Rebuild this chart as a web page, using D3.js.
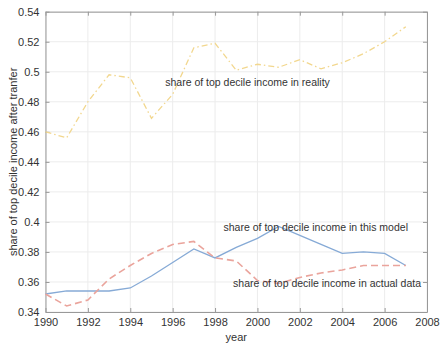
<!DOCTYPE html>
<html><head><meta charset="utf-8">
<script src="https://cdn.jsdelivr.net/npm/d3@7"></script>
<style>body{margin:0;background:#fff}svg{display:block}text{font-family:"Liberation Sans",Arial,sans-serif}</style>
</head><body><div id="c"></div>
<script>
const years = [1990,1991,1992,1993,1994,1995,1996,1997,1998,1999,2000,2001,2002,2003,2004,2005,2006,2007];
const reality = [0.460,0.456,0.480,0.498,0.496,0.469,0.485,0.516,0.519,0.501,0.505,0.503,0.508,0.502,0.506,0.512,0.520,0.530];
const model = [0.352,0.354,0.354,0.354,0.356,0.364,0.373,0.382,0.376,0.383,0.389,0.397,0.391,0.385,0.379,0.380,0.379,0.371];
const actual = [0.352,0.344,0.348,0.362,0.371,0.379,0.385,0.387,0.376,0.374,0.361,0.359,0.363,0.366,0.368,0.371,0.371,0.371];
const xTicks = [1990,1992,1994,1996,1998,2000,2002,2004,2006,2008];
const yTicks = [0.34,0.36,0.38,0.40,0.42,0.44,0.46,0.48,0.50,0.52,0.54];
const labels = ["share of top decile income in reality","share of top decile income in this model","share of top decile income in actual data"];

const W=441,H=343, m={l:45.5,r:14,t:11.7,b:31};
const svg=d3.select("#c").append("svg").attr("width",W).attr("height",H);
const x=d3.scaleLinear().domain([1990,2008]).range([m.l,W-m.r]);
const y=d3.scaleLinear().domain([0.34,0.54]).range([H-m.b,m.t]);
const g=svg.append("g");
g.selectAll(".gx").data(xTicks).enter().append("line").attr("x1",d=>x(d)).attr("x2",d=>x(d)).attr("y1",y(0.34)).attr("y2",y(0.54)).attr("stroke","#ececec").attr("stroke-width",1);
g.selectAll(".gy").data(yTicks).enter().append("line").attr("y1",d=>y(d)).attr("y2",d=>y(d)).attr("x1",x(1990)).attr("x2",x(2008)).attr("stroke","#ececec").attr("stroke-width",1);
const fmt=d=>d3.format(".2f")(d).replace(/0$/,"");
const ax=(gen,tr)=>{const a=svg.append("g").attr("transform",tr).call(gen);a.select(".domain").attr("stroke","#999");a.selectAll(".tick line").attr("stroke","#999");a.selectAll("text").attr("fill","#333").style("font-size","11px");return a;};
ax(d3.axisBottom(x).tickValues(xTicks).tickFormat(d3.format("d")).tickSizeInner(-4).tickSizeOuter(0).tickPadding(6),`translate(0,${y(0.34)})`);
ax(d3.axisLeft(y).tickValues(yTicks).tickFormat(fmt).tickSizeInner(-4).tickSizeOuter(0).tickPadding(6),`translate(${x(1990)},0)`);
ax(d3.axisTop(x).tickValues(xTicks).tickFormat("").tickSizeInner(-4).tickSizeOuter(0),`translate(0,${y(0.54)})`);
ax(d3.axisRight(y).tickValues(yTicks).tickFormat("").tickSizeInner(-4).tickSizeOuter(0),`translate(${x(2008)},0)`);

const line=d3.line().x((d,i)=>x(years[i])).y(d=>y(d));
svg.append("path").datum(reality).attr("d",line).attr("fill","none").attr("stroke","#f2d78e").attr("stroke-width",1.3).attr("stroke-dasharray","6,3,1.5,3");
svg.append("path").datum(model).attr("d",line).attr("fill","none").attr("stroke","#86aad6").attr("stroke-width",1.3);
svg.append("path").datum(actual).attr("d",line).attr("fill","none").attr("stroke","#eaa49c").attr("stroke-width",1.6).attr("stroke-dasharray","7,4");

const lab=[[1995.65,0.4927],[1998.4,0.3963],[1998.85,0.3589]];
labels.forEach((t,i)=>svg.append("text").attr("x",x(lab[i][0])).attr("y",y(lab[i][1])).attr("dy","0.35em").attr("fill","#333").style("font-size","10.5px").text(t));
svg.append("text").attr("x",x(1999)).attr("y",337).attr("dy","0.35em").attr("text-anchor","middle").attr("fill","#333").style("font-size","11px").text("year");
svg.append("text").attr("transform",`translate(13,${(y(0.34)+y(0.54))/2}) rotate(-90)`).attr("text-anchor","middle").attr("dy","0.35em").attr("fill","#333").style("font-size","11px").text("share of top decile income after tranfer");
</script></body></html>
